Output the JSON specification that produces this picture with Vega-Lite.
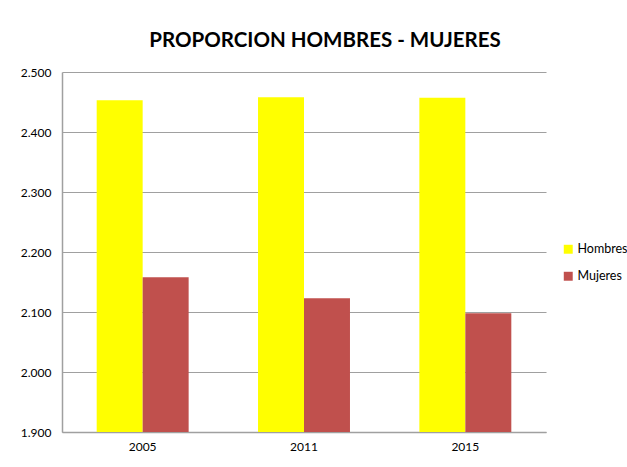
{
  "$schema": "https://vega.github.io/schema/vega-lite/v6.json",
  "width": 484,
  "height": 360,
  "autosize": {"type": "none"},
  "padding": {"left": 62, "top": 72, "right": 81, "bottom": 35},
  "background": "white",
  "config": {
    "locale": {"number": {"decimal": ",", "thousands": ".", "grouping": [3], "currency": ["", " €"]}},
    "font": "Lato",
    "view": {"stroke": null}
  },
  "title": {
    "text": "PROPORCION HOMBRES - MUJERES",
    "font": "Lato",
    "fontSize": 20.5,
    "fontWeight": "bold",
    "color": "#000000",
    "anchor": "middle",
    "dx": 21,
    "offset": 15
  },
  "data": {
    "values": [
      {"year": "2005", "sexo": "Hombres", "valor": 2453},
      {"year": "2005", "sexo": "Mujeres", "valor": 2158},
      {"year": "2011", "sexo": "Hombres", "valor": 2458},
      {"year": "2011", "sexo": "Mujeres", "valor": 2123},
      {"year": "2015", "sexo": "Hombres", "valor": 2457},
      {"year": "2015", "sexo": "Mujeres", "valor": 2098}
    ]
  },
  "mark": {"type": "bar", "clip": true},
  "encoding": {
    "x": {
      "field": "year",
      "type": "nominal",
      "scale": {"paddingInner": 0.43, "paddingOuter": 0.215},
      "axis": {
        "title": null,
        "labelAngle": 0,
        "ticks": false,
        "labelPadding": 9,
        "labelFontSize": 12,
        "labelColor": "#000000",
        "domainColor": "#a0a0a0",
        "domainWidth": 1.5
      }
    },
    "xOffset": {"field": "sexo", "type": "nominal", "scale": {"paddingInner": 0, "paddingOuter": 0}},
    "y": {
      "field": "valor",
      "type": "quantitative",
      "scale": {"domain": [1900, 2500], "nice": false, "zero": false},
      "axis": {
        "title": null,
        "values": [1900, 2000, 2100, 2200, 2300, 2400, 2500],
        "format": ",.0f",
        "ticks": false,
        "labelPadding": 11,
        "labelFontSize": 12,
        "labelColor": "#000000",
        "gridColor": "#a0a0a0",
        "gridWidth": 1.2,
        "domainColor": "#a0a0a0",
        "domainWidth": 1.5
      }
    },
    "color": {
      "field": "sexo",
      "type": "nominal",
      "scale": {"domain": ["Hombres", "Mujeres"], "range": ["#ffff00", "#c0504d"]},
      "legend": {
        "title": null,
        "orient": "none",
        "legendX": 500,
        "legendY": 171,
        "symbolType": "square",
        "symbolSize": 80,
        "symbolStrokeWidth": 0,
        "labelFontSize": 12.5,
        "labelColor": "#000000",
        "labelOffset": 3,
        "rowPadding": 14
      }
    }
  }
}
